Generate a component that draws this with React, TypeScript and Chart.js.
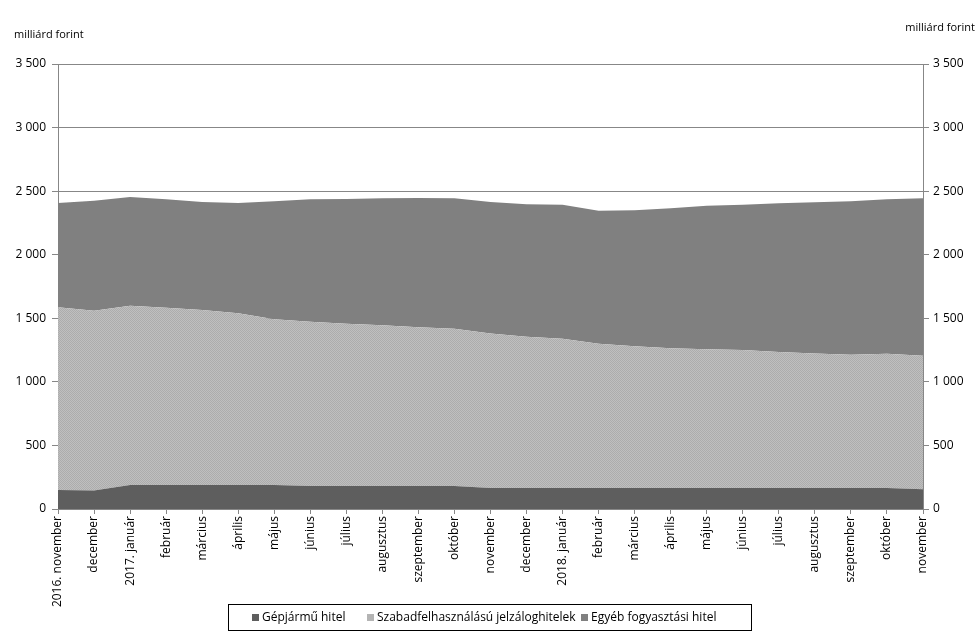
import React, { useEffect, useRef } from "react";
import { Chart, registerables } from "chart.js";

Chart.register(...registerables);

const categories = [
  "2016. november", "december", "2017. január", "február", "március", "április", "május",
  "június", "július", "augusztus", "szeptember", "október", "november", "december",
  "2018. január", "február", "március", "április", "május", "június", "július",
  "augusztus", "szeptember", "október", "november",
];

const gepjarmu = [150, 145, 189, 189, 189, 189, 189, 181, 181, 181, 181, 181, 165, 165, 165, 165, 165, 165, 165, 165, 165, 165, 165, 165, 155];
const szabad = [1436, 1415, 1410, 1394, 1376, 1350, 1303, 1292, 1277, 1264, 1248, 1237, 1215, 1190, 1175, 1135, 1115, 1099, 1091, 1086, 1070, 1059, 1049, 1057, 1051];
const egyeb = [821, 865, 855, 853, 850, 868, 928, 963, 980, 999, 1017, 1026, 1035, 1041, 1053, 1046, 1069, 1101, 1130, 1142, 1169, 1188, 1206, 1214, 1238];

const seriesNames = ["Gépjármű hitel", "Szabadfelhasználású jelzáloghitelek", "Egyéb fogyasztási hitel"];
const unitLabel = "milliárd forint";

const FONT = "'Open Sans', 'DejaVu Sans', sans-serif";
const GRID = "#878787";

function fmt(v: number) {
  const s = String(Math.round(v));
  return s.replace(/\B(?=(\d{3})+(?!\d))/g, " ");
}

function makePattern(): CanvasPattern | string {
  const c = document.createElement("canvas");
  c.width = 2;
  c.height = 2;
  const ctx = c.getContext("2d");
  if (!ctx) return "#b4b4b4";
  ctx.fillStyle = "#bfbfbf";
  ctx.fillRect(0, 0, 2, 2);
  ctx.fillStyle = "#acacac";
  ctx.fillRect(0, 0, 1, 1);
  ctx.fillRect(1, 1, 1, 1);
  return ctx.createPattern(c, "repeat") || "#b4b4b4";
}

export default function App() {
  const ref = useRef<HTMLCanvasElement | null>(null);

  useEffect(() => {
    if (!ref.current) return;
    const colors = ["#5e5e5e", makePattern(), "#808080"];
    const legendColors = ["#5e5e5e", "#b4b4b4", "#808080"];
    const legendStarts = [252, 367, 581];

    const overlay = {
      id: "overlay",
      afterDraw(chart: any) {
        const ctx = chart.ctx;
        ctx.save();
        ctx.fillStyle = "#000";
        ctx.font = `11px ${FONT}`;
        ctx.textBaseline = "middle";
        ctx.textAlign = "left";
        ctx.fillText(unitLabel, 14, 35);
        ctx.textAlign = "right";
        ctx.fillText(unitLabel, 975, 28);

        // legend
        const bx = 228, by = 604, bw = 523, bh = 26;
        ctx.fillStyle = "#fff";
        ctx.fillRect(bx, by, bw + 1, bh + 1);
        ctx.strokeStyle = "#000";
        ctx.lineWidth = 1;
        ctx.strokeRect(bx + 0.5, by + 0.5, bw, bh);
        ctx.font = `12px ${FONT}`;
        ctx.textAlign = "left";
        const marker = 7;
        const cy = by + bh / 2 + 0.5;
        seriesNames.forEach((n, i) => {
          const x = legendStarts[i];
          ctx.fillStyle = legendColors[i];
          ctx.fillRect(x, Math.round(cy - marker / 2), marker, marker);
          ctx.fillStyle = "#000";
          ctx.fillText(n, x + 10, cy);
        });
        ctx.restore();
      },
    };

    const data = [gepjarmu, szabad, egyeb];
    const chart = new Chart(ref.current, {
      type: "line",
      data: {
        labels: categories,
        datasets: seriesNames.map((name, i) => ({
          label: name,
          data: data[i],
          backgroundColor: colors[i] as any,
          borderWidth: 0,
          borderColor: "transparent",
          pointRadius: 0,
          pointHoverRadius: 0,
          tension: 0,
          fill: i === 0 ? "origin" : "-1",
          yAxisID: "y",
        })),
      },
      options: {
        animation: false,
        responsive: false,
        maintainAspectRatio: false,
        layout: { padding: { top: 64, bottom: 25, left: 0, right: 0 } },
        plugins: { legend: { display: false }, tooltip: { enabled: false } },
        elements: { line: { borderWidth: 0 } },
        scales: {
          x: {
            type: "category",
            offset: false,
            grid: { display: true, drawOnChartArea: false, drawTicks: true, tickLength: 5, color: GRID },
            border: { display: true, color: GRID },
            ticks: {
              autoSkip: false,
              maxRotation: 90,
              minRotation: 90,
              padding: 2,
              color: "#000",
              font: { family: FONT, size: 12 },
            },
            afterFit(scale: any) {
              scale.height = 104;
            },
          },
          y: {
            type: "linear",
            position: "left",
            stacked: true,
            min: 0,
            max: 3500,
            grid: { color: GRID, tickLength: 6, drawTicks: true },
            border: { display: true, color: GRID },
            ticks: {
              stepSize: 500,
              padding: 6,
              color: "#000",
              font: { family: FONT, size: 12 },
              callback: (v: any) => fmt(Number(v)),
            },
            afterFit(scale: any) {
              scale.width = 58;
            },
          },
          y2: {
            type: "linear",
            position: "right",
            min: 0,
            max: 3500,
            grid: { drawOnChartArea: false, drawTicks: true, tickLength: 6, color: GRID },
            border: { display: true, color: GRID },
            ticks: {
              stepSize: 500,
              padding: 4,
              color: "#000",
              font: { family: FONT, size: 12 },
              callback: (v: any) => fmt(Number(v)),
            },
            afterFit(scale: any) {
              scale.width = 55;
            },
          },
        },
      },
      plugins: [overlay],
    });
    return () => chart.destroy();
  }, []);

  return (
    <div style={{ position: "fixed", left: 0, top: 0, width: 978, height: 638, background: "#fff" }}>
      <canvas ref={ref} width={978} height={638} style={{ display: "block", width: 978, height: 638 }} />
    </div>
  );
}
